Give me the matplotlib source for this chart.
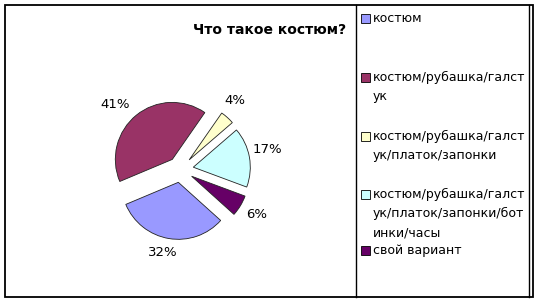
import numpy as np
import matplotlib
matplotlib.use("Agg")
from matplotlib import pyplot as plt
from matplotlib.patches import Rectangle

title = 'Что такое костюм?'
# legend labels, wrapped the way the original legend box wraps them
categories = [
    'костюм',
    'костюм/рубашка/галст\nук',
    'костюм/рубашка/галст\nук/платок/запонки',
    'костюм/рубашка/галст\nук/платок/запонки/бот\nинки/часы',
    'свой вариант']
shares = [32, 41, 4, 17, 6]
colors = ['#9999FF', '#993366', '#FFFFCC', '#CCFFFF', '#660066']

W, H = 542, 299
fig = plt.figure(figsize=(W / 100, H / 100), dpi=100)
ax = fig.add_axes([0, 0, 1, 1])

# exploded pie, clockwise from about 4-5 o'clock like the excel one
wedges, texts = ax.pie(shares, labels=[f'{v}%' for v in shares], colors=colors,
                       startangle=-42, counterclock=False, explode=[13] * 5,
                       radius=57, center=(180.5, H - 169.5),
                       wedgeprops=dict(edgecolor='#222222', linewidth=0.6),
                       textprops=dict(fontsize=9.5))

label_dist = [1.27, 1.39, 1.31, 1.33, 1.32]
label_shift = [-3, 7, 4, 3, 1]
for w, t, d, s in zip(wedges, texts, label_dist, label_shift):
    tm = np.deg2rad((w.theta1 + w.theta2) / 2 + s)
    cx, cy = w.center
    t.set_position((cx + d * w.r * np.cos(tm), cy + d * w.r * np.sin(tm)))
    t.set_ha('center')
    t.set_va('center')

ax.set_xlim(0, W)
ax.set_ylim(0, H)
ax.axis('off')

ax.text(270, H - 30, title, fontsize=10, fontweight='bold', ha='center', va='center')

# frame
ax.add_patch(Rectangle((5, H - 297), 528, 292, fill=False, lw=1.3, ec='black'))
ax.plot([356, 356], [H - 297, H - 5], color='black', lw=1.0)
ax.plot([528.5, 528.5], [H - 297, H - 5], color='black', lw=1.0)

# legend
entry_y = [18, 77, 136, 194, 250]
for lab, col, y in zip(categories, colors, entry_y):
    ax.add_patch(Rectangle((361, H - y - 4.5), 9, 9, fc=col, ec='black', lw=0.6))
    ax.text(373, H - y + 6, lab, fontsize=9, ha='left', va='top', linespacing=1.6)

fig.savefig('out.png', dpi=100)
